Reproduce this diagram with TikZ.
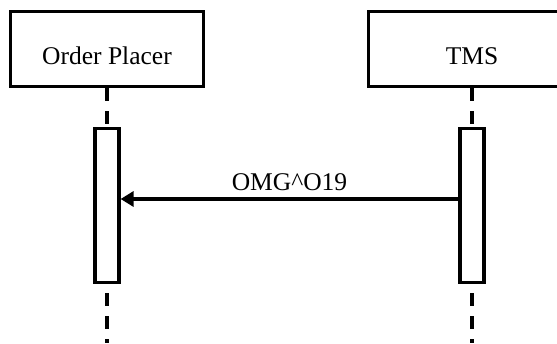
\documentclass[tikz,border=0pt]{standalone}
\usepackage{fontspec}
\setmainfont{Liberation Serif}
\usetikzlibrary{arrows.meta}

\begin{document}
\begin{tikzpicture}[x=1pt,y=1pt,line width=3.2pt,
    font=\fontsize{25.5pt}{30pt}\selectfont,
    actor/.style={draw,minimum height=75pt,text height=31pt,text depth=0pt},
    activation/.style={draw,fill=white,minimum width=24pt,minimum height=154pt},
    lifeline/.style={dash pattern=on 13pt off 10pt},
    msg/.style={-{Triangle[length=13pt,width=15pt]}},
    msgtext/.style={inner sep=0pt,above=6.5pt}]

    \useasboundingbox (0,0) rectangle (557,343);

    % Partecipanti con linea di vita e attivazione
    \foreach \name/\xpos/\boxw/\txt in {op/107/193/Order Placer,tms/472/207/TMS}{
        \node[actor,minimum width=\boxw pt] (\name) at (\xpos,294) {\txt};
        \node[activation] (\name-act) at (\xpos,137.5) {};
        \coordinate (\name-end) at (\xpos,0);
        \draw[lifeline] (\name) -- (\name-act);
        \draw[lifeline,dash phase=14pt] (\name-act) -- (\name-end);
    }

    % Messaggio
    \draw[msg] (tms-act.west |- 0,144) --
        node[msgtext] {OMG\textasciicircum O19} (op-act.east |- 0,144);

\end{tikzpicture}
\end{document}
